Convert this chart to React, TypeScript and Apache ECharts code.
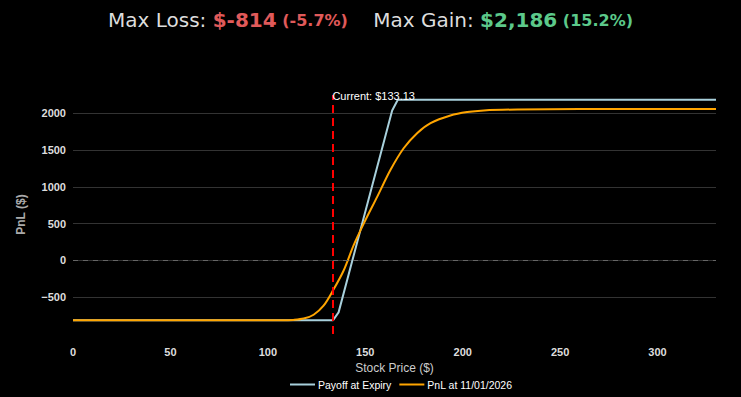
import React, { useEffect, useRef } from "react";
import * as echarts from "echarts";

const currentPrice = 133.13;
const payoffX = [0, 133.4, 136.3, 163.8, 166.7, 330];
const payoffY = [-814, -814, -706, 2040, 2186, 2186];
const pnlX = [0, 108, 113, 118.4, 123.5, 128.6, 133.4, 138.9, 144, 149.2, 156.1, 162.9, 169.7, 176.6, 183.5, 193.7, 202.3, 210.8, 228, 260, 330];
const pnlY = [-814, -814, -808, -790, -738, -615, -410, -137, 205, 501, 865, 1230, 1526, 1731, 1867, 1971, 2018, 2040, 2053, 2058, 2059];
const seriesNames = ["Payoff at Expiry", "PnL at 11/01/2026"];

const zip = (xs: number[], ys: number[]) => xs.map((x, i) => [x, ys[i]]);

export default function App() {
  const ref = useRef<HTMLDivElement>(null);
  useEffect(() => {
    if (!ref.current) return;
    const chart = echarts.init(ref.current, null, { renderer: "svg" });
    chart.setOption({
      animation: false,
      backgroundColor: "#000000",
      title: {
        left: "center",
        top: 5,
        text:
          "{a|Max Loss: }{r|$-814}{rs| (-5.7%)}{a|    Max Gain: }{g|$2,186}{gs| (15.2%)}",
        textStyle: {
          fontFamily: "DejaVu Sans",
          fontWeight: "normal",
          rich: {
            a: { fontFamily: "DejaVu Sans", fontSize: 20, fontWeight: "normal", color: "#dddddd" },
            r: { fontFamily: "DejaVu Sans", fontSize: 20, fontWeight: "bold", color: "#e05a5a" },
            rs: { fontFamily: "DejaVu Sans", fontSize: 16, fontWeight: "bold", color: "#e05a5a" },
            g: { fontFamily: "DejaVu Sans", fontSize: 20, fontWeight: "bold", color: "#5cc98a" },
            gs: { fontFamily: "DejaVu Sans", fontSize: 16, fontWeight: "bold", color: "#5cc98a" },
          },
        },
      },
      legend: {
        left: 285,
        top: 374,
        icon: "rect",
        itemWidth: 25,
        itemHeight: 2,
        itemGap: 8,
        data: seriesNames,
        textStyle: { color: "#ffffff", fontSize: 10.5, fontFamily: "Liberation Sans", padding: [0, 0, 0, -2] },
      },
      grid: { left: 73, right: 25, top: 95, bottom: 63, containLabel: false },
      xAxis: {
        type: "value",
        min: 0,
        max: 330,
        interval: 50,
        name: "Stock Price ($)",
        nameLocation: "middle",
        nameGap: 27,
        nameTextStyle: { color: "#cccccc", fontSize: 12, fontFamily: "Liberation Sans" },
        axisLine: { show: false },
        axisTick: { show: false },
        splitLine: { show: false },
        axisLabel: {
          color: "#dddddd",
          fontSize: 11,
          fontWeight: "bold",
          fontFamily: "Liberation Sans",
          margin: 12,
          showMaxLabel: false,
        },
      },
      yAxis: {
        type: "value",
        min: -1000,
        max: 2250,
        interval: 500,
        name: "PnL ($)",
        nameLocation: "middle",
        nameGap: 46,
        nameTextStyle: { color: "#aaaaaa", fontSize: 12, fontWeight: "bold", fontFamily: "Liberation Sans" },
        axisLine: { show: false },
        axisTick: { show: false },
        splitLine: { show: true, showMinLine: false, showMaxLine: false, lineStyle: { color: "#333333", width: 1 } },
        axisLabel: {
          color: "#dddddd",
          fontSize: 11,
          fontWeight: "bold",
          fontFamily: "Liberation Sans",
          margin: 7,
          showMinLabel: false,
          showMaxLabel: false,
          formatter: (v: number) => (v < 0 ? "\u2212" + Math.abs(v) : String(v)),
        },
      },
      series: [
        {
          name: seriesNames[0],
          type: "line",
          data: zip(payoffX, payoffY),
          showSymbol: false,
          symbol: "none",
          lineStyle: { color: "#a8d0dc", width: 2 },
          itemStyle: { color: "#a8d0dc" },
          z: 2,
          markLine: {
            silent: true,
            symbol: "none",
            data: [{ yAxis: 0 }],
            lineStyle: { color: "#666666", type: [5, 5], width: 1 },
            label: { show: false },
          },
        },
        {
          name: seriesNames[1],
          type: "line",
          data: zip(pnlX, pnlY),
          showSymbol: false,
          symbol: "none",
          smooth: 0.3,
          lineStyle: { color: "#ffa500", width: 2 },
          itemStyle: { color: "#ffa500" },
          z: 3,
          markLine: {
            silent: true,
            symbol: "none",
            data: [{ xAxis: currentPrice }],
            lineStyle: { color: "#ff0000", type: [8, 5], width: 2 },
            label: {
              show: true,
              position: "end",
              formatter: "Current: $" + currentPrice.toFixed(2),
              color: "#ffffff",
              fontSize: 11,
              fontFamily: "Liberation Sans",
              align: "left",
              verticalAlign: "middle",
              distance: [2, -1],
            },
          },
        },
      ],
    });
    return () => chart.dispose();
  }, []);
  return (
    <div
      ref={ref}
      style={{ position: "absolute", left: 0, top: 0, width: 741, height: 397, background: "#000" }}
    />
  );
}
